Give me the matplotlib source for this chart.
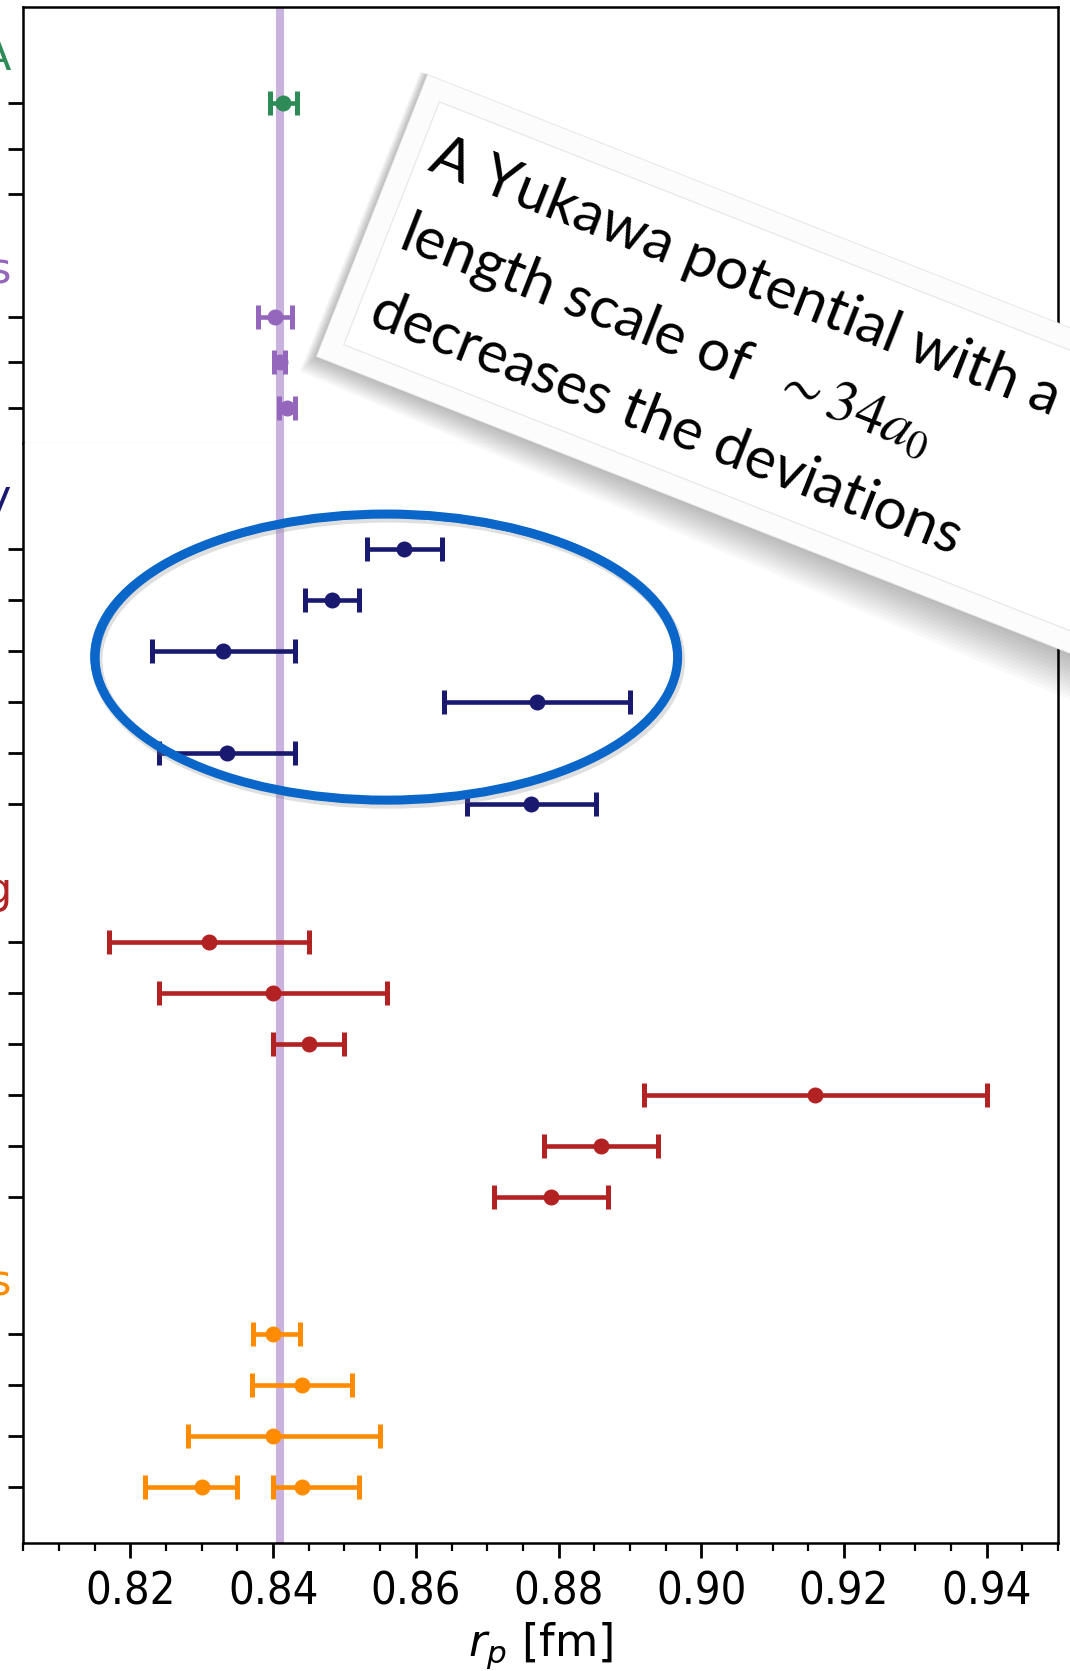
import numpy as np
import matplotlib
matplotlib.use("Agg")
import matplotlib.pyplot as plt
from matplotlib import patches, transforms

# proton charge radius values [fm]
r_band = 0.8409

green_rows = [0]
green_val = [0.8414]
green_err = [0.0019]

purple_rows = [0, 1, 2]
purple_val = [0.8403, 0.8409, 0.8419]
purple_err = [0.0024, 0.0008, 0.0011]

navy_rows = [0, 1, 2, 3, 4, 5]
navy_val = [0.8584, 0.8482, 0.8330, 0.8770, 0.8335, 0.8762]
navy_err = [0.0052, 0.0038, 0.0100, 0.0130, 0.0095, 0.0090]

red_rows = [0, 1, 2, 3, 4, 5]
red_val = [0.831, 0.840, 0.845, 0.916, 0.886, 0.879]
red_err = [0.014, 0.016, 0.005, 0.024, 0.008, 0.008]

orange_rows = [0, 1, 2, 3, 3]
orange_val = [0.840, 0.844, 0.840, 0.830, 0.844]
orange_lo = [0.0028, 0.0069, 0.0119, 0.0080, 0.0040]
orange_hi = [0.0037, 0.0070, 0.0150, 0.0050, 0.0081]

xticks = [0.82, 0.84, 0.86, 0.88, 0.90, 0.92, 0.94]
note_lines = ["A Yukawa potential with a",
              r"length scale of  $\sim \mathit{34}a_0$",
              "decreases the deviations"]

top_groups = [("A", "#2e8b57", 3, green_rows, green_val, green_err, green_err),
              ("s", "#9467bd", 3, purple_rows, purple_val, purple_err, purple_err)]
bottom_groups = [("y", "#191970", 6, navy_rows, navy_val, navy_err, navy_err),
                 ("g", "#b22222", 6, red_rows, red_val, red_err, red_err),
                 ("s", "#ff8c00", 4, orange_rows, orange_val, orange_lo, orange_hi)]

GAP = 2.7
W, H = 1070, 1671

fig = plt.figure(figsize=(W / 100, H / 100), dpi=100)
ax_top = fig.add_axes([23.4 / W, 1 - 443 / H, 1034.6 / W, 436 / H])
ax_bot = fig.add_axes([23.4 / W, 1 - 1543 / H, 1034.6 / W, 1100 / H])


def draw_panel(ax, groups):
    start = 0.0
    ticks = []
    lab_tr = transforms.blended_transform_factory(fig.transFigure, ax.transData)
    for label, color, n, rows, val, lo, hi in groups:
        y = [start + r for r in rows]
        ax.errorbar(val, y, xerr=[lo, hi], fmt='o', color=color, ms=10.5,
                    elinewidth=3.3, capsize=8.4, capthick=3.6, zorder=3)
        ticks += [start + i for i in range(n)]
        ax.text(11.5 / W, start - 1, label, color=color, fontsize=31,
                ha='right', va='center', transform=lab_tr)
        start += n - 1 + GAP
    ax.set_yticks(ticks)
    ax.set_yticklabels([])
    ax.axvline(r_band, color='#9467bd', alpha=0.5, lw=5.8, zorder=1)
    ax.set_xlim(0.805, 0.95)
    ax.tick_params(axis='y', length=10.8, width=2, direction='out')
    for s in ax.spines.values():
        s.set_linewidth(1.8)


draw_panel(ax_top, top_groups)
draw_panel(ax_bot, bottom_groups)
ax_top.set_ylim(7.47, -2.11)
ax_bot.set_ylim(19.49, -2.08)

ax_top.tick_params(axis='x', bottom=False, labelbottom=False, which='both')
ax_top.spines['bottom'].set_color('#c8c8c8')
ax_top.spines['bottom'].set_linewidth(0.8)
ax_bot.spines['top'].set_visible(False)

ax_bot.set_xticks(xticks)
ax_bot.set_xticklabels(["%.2f" % t for t in xticks], fontsize=32.5,
                       fontstretch='condensed')
ax_bot.set_xticks(np.arange(0.805, 0.9501, 0.005), minor=True)
ax_bot.tick_params(axis='x', which='major', length=10.8, width=2, pad=9)
ax_bot.tick_params(axis='x', which='minor', length=6, width=1.6)
ax_bot.set_xlabel(r"$r_p$ [fm]", fontsize=32, labelpad=5)

# hand drawn ellipse around the hydrogen spectroscopy points
ell_c = np.array([0.85585, 2.118])
ell_w, ell_h = 0.08168, 5.61
shadow_tr = transforms.offset_copy(ax_bot.transData, fig=fig, x=2, y=-3, units='dots')
ax_bot.add_patch(patches.Ellipse(ell_c, ell_w, ell_h, fill=False, ec='gray',
                                 lw=8, alpha=0.25, transform=shadow_tr, zorder=4))
ax_bot.add_patch(patches.Ellipse(ell_c, ell_w, ell_h, fill=False, ec='#0a66c8',
                                 lw=6.5, zorder=5))
for k, dx, dy in [(0.992, 0.0002, 0.03), (1.007, -0.0002, -0.02),
                  (0.997, -0.0003, 0.05), (1.003, 0.0003, -0.04)]:
    ax_bot.add_patch(patches.Ellipse(ell_c + [dx, dy], ell_w * k, ell_h * k,
                                     fill=False, ec='#0a66c8', lw=1.6,
                                     alpha=0.75, zorder=6))

# rotated note card (pixel coordinates, y up)
ang = -21.5
ca, sa = np.cos(np.radians(ang)), np.sin(np.radians(ang))
u = np.array([ca, sa])
v = np.array([-sa, ca])
bl = np.array([316.5, H - 356.5])
bw, bh = 1000.0, 303.0
px = transforms.Affine2D().scale(1 / 100) + fig.dpi_scale_trans

for k in range(12):
    d = 1.5 + 1.7 * k
    corners = [bl - d * v - 0.5 * d * u, bl + bw * u - 2.4 * d * v,
               bl + bw * u + bh * v, bl + bh * v - 0.4 * d * u]
    fig.patches.append(patches.Polygon(corners, closed=True, fc='black',
                                       ec='none', alpha=0.022, transform=px))

fig.patches.append(patches.Rectangle(bl, bw, bh, angle=ang, fc='#fcfcfc',
                                     ec='#e8e8e8', lw=0.6, transform=px))
ins = 21
fig.patches.append(patches.Rectangle(bl + ins * u + ins * v, bw - 2 * ins, bh - 2 * ins,
                                     angle=ang, fc='white', ec='#e6e6e6', lw=0.8,
                                     transform=px))

start = np.array([427.0, H - 170.0])
for i, line in enumerate(note_lines):
    p = start - i * 82.5 * v
    fig.text(p[0], p[1], line, transform=px, rotation=ang, rotation_mode='anchor',
             ha='left', va='baseline', fontsize=42, family='Lato',
             math_fontfamily='stix', color='black')

fig.savefig("out.png", dpi=100)
